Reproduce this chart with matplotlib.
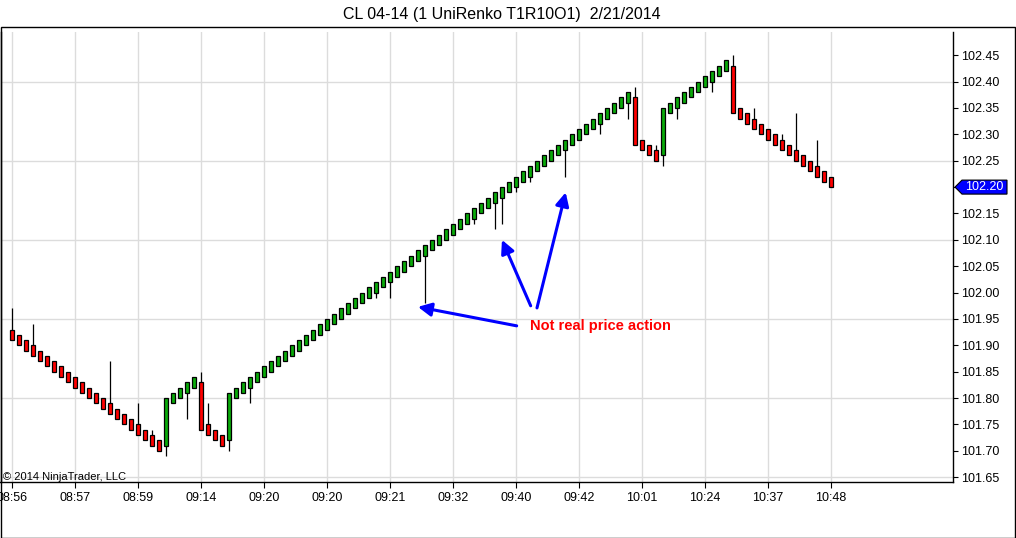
import numpy as np
import matplotlib
matplotlib.use("Agg")
import matplotlib.pyplot as plt
from matplotlib.patches import Rectangle, Polygon
from matplotlib.transforms import IdentityTransform

plt.rcParams["font.family"] = ["Liberation Sans", "DejaVu Sans"]

# --------------------------------------------------
# DATA (one entry per renko bar)
# --------------------------------------------------
opens = [
    101.93, 101.92, 101.91, 101.90, 101.89, 101.88, 101.87, 101.86, 101.85, 101.84,
    101.83, 101.82, 101.81, 101.80, 101.79, 101.78, 101.77, 101.76, 101.75, 101.74,
    101.73, 101.72,
    101.71, 101.79, 101.80, 101.81, 101.82,
    101.83, 101.75, 101.74, 101.73,
    101.72,
    101.80, 101.81, 101.82, 101.83, 101.84, 101.85, 101.86, 101.87, 101.88, 101.89,
    101.90, 101.91, 101.92, 101.93, 101.94, 101.95, 101.96, 101.97, 101.98, 101.99,
    102.00, 102.01, 102.02, 102.03, 102.04, 102.05, 102.06, 102.07, 102.08, 102.09,
    102.10, 102.11, 102.12, 102.13, 102.14, 102.15, 102.16, 102.17, 102.18, 102.19,
    102.20, 102.21, 102.22, 102.23, 102.24, 102.25, 102.26, 102.27, 102.28, 102.29,
    102.30, 102.31, 102.32, 102.33, 102.34, 102.35, 102.36,
    102.37, 102.29, 102.28, 102.27,
    102.26, 102.34, 102.35, 102.36, 102.37, 102.38, 102.39, 102.40, 102.41, 102.42,
    102.43, 102.35, 102.34, 102.33, 102.32, 102.31, 102.30, 102.29, 102.28, 102.27,
    102.26, 102.25, 102.24, 102.23, 102.22,
]
closes = [
    101.91, 101.90, 101.89, 101.88, 101.87, 101.86, 101.85, 101.84, 101.83, 101.82,
    101.81, 101.80, 101.79, 101.78, 101.77, 101.76, 101.75, 101.74, 101.73, 101.72,
    101.71, 101.70,
    101.80, 101.81, 101.82, 101.83, 101.84,
    101.74, 101.73, 101.72, 101.71,
    101.81,
    101.82, 101.83, 101.84, 101.85, 101.86, 101.87, 101.88, 101.89, 101.90, 101.91,
    101.92, 101.93, 101.94, 101.95, 101.96, 101.97, 101.98, 101.99, 102.00, 102.01,
    102.02, 102.03, 102.04, 102.05, 102.06, 102.07, 102.08, 102.09, 102.10, 102.11,
    102.12, 102.13, 102.14, 102.15, 102.16, 102.17, 102.18, 102.19, 102.20, 102.21,
    102.22, 102.23, 102.24, 102.25, 102.26, 102.27, 102.28, 102.29, 102.30, 102.31,
    102.32, 102.33, 102.34, 102.35, 102.36, 102.37, 102.38,
    102.28, 102.27, 102.26, 102.25,
    102.35, 102.36, 102.37, 102.38, 102.39, 102.40, 102.41, 102.42, 102.43, 102.44,
    102.34, 102.33, 102.32, 102.31, 102.30, 102.29, 102.28, 102.27, 102.26, 102.25,
    102.24, 102.23, 102.22, 102.21, 102.20,
]

# wicks sticking out of the body: bar index -> price
upper_wick_bars = [0, 3, 14, 18, 20, 27, 28, 89, 92, 103, 106, 110, 112, 115]
upper_wick_vals = [101.97, 101.94, 101.87, 101.79, 101.74, 101.85, 101.79,
                   102.39, 102.28, 102.45, 102.35, 102.30, 102.34, 102.29]
lower_wick_bars = [22, 25, 31, 34, 52, 54, 59, 66, 69, 70, 72, 74, 79, 84, 88, 93, 95, 100]
lower_wick_vals = [101.69, 101.76, 101.70, 101.79, 101.99, 101.99, 101.98, 102.13, 102.12,
                   102.13, 102.19, 102.21, 102.22, 102.30, 102.33, 102.24, 102.33, 102.38]

time_labels = ["08:56", "08:57", "08:59", "09:14", "09:20", "09:20", "09:21",
               "09:32", "09:40", "09:42", "10:01", "10:24", "10:37", "10:48"]
bars_per_label = 9

title = "CL 04-14 (1 UniRenko T1R10O1)  2/21/2014"
note = "Not real price action"

# --------------------------------------------------
# PREP
# --------------------------------------------------
o = np.array(opens)
c = np.array(closes)
x = np.arange(len(c))
highs = np.maximum(o, c)
lows = np.minimum(o, c)
highs[upper_wick_bars] = upper_wick_vals
lows[lower_wick_bars] = lower_wick_vals

UP = "#0aaa0a"
DOWN = "#ff0000"
colors = [UP if cc > oo else DOWN for oo, cc in zip(o, c)]
last = closes[-1]

# --------------------------------------------------
# FIGURE
# --------------------------------------------------
W, H = 1016, 538
fig = plt.figure(figsize=(W / 100, H / 100), dpi=100)
ax = fig.add_axes([0.5 / W, (H - 482) / H, (953 - 0.5) / W, (482 - 32) / H])

ax.set_xlim(-1.6, 134.4)
ax.set_ylim(101.641, 102.494)

# grid
ax.set_xticks(np.arange(0, len(c), bars_per_label))
ax.set_xticklabels(time_labels)
ax.grid(axis="x", color="#dcdcdc", lw=1.0)
for lvl in np.arange(101.65, 102.46, 0.15):
    ax.axhline(lvl, color="#dcdcdc", lw=1.0, zorder=0)
ax.set_axisbelow(True)

# candles
ax.vlines(x, lows, highs, color="black", lw=0.9, zorder=2)
ax.bar(x, np.abs(c - o), bottom=np.minimum(o, c), width=0.58,
       color=colors, edgecolor="black", linewidth=0.9, zorder=3)

# axes styling (the live price box takes the place of its own tick label)
ax.yaxis.tick_right()
yt = np.round(np.arange(101.65, 102.46, 0.05), 2)
ax.set_yticks(yt)
ax.set_yticklabels(["" if abs(v - last) < 1e-6 else f"{v:.2f}" for v in yt])
ax.tick_params(axis="y", direction="out", length=3.5, width=0.8, pad=2, labelsize=9)
ax.tick_params(axis="x", direction="out", length=4.5, width=0.8, pad=2.5, labelsize=9)
ax.spines["top"].set_visible(False)
for s in ["left", "bottom", "right"]:
    ax.spines[s].set_linewidth(1.0)

# annotations
arrow = dict(arrowstyle="-|>", color="#0000ff", lw=2.2, mutation_scale=20,
             shrinkA=0, shrinkB=0)
ax.annotate("", xy=(58.0, 101.973), xytext=(72.1, 101.937), arrowprops=arrow)
ax.annotate("", xy=(70.0, 102.100), xytext=(74.1, 101.975), arrowprops=arrow)
ax.annotate("", xy=(79.1, 102.190), xytext=(75.0, 101.971), arrowprops=arrow)
ax.text(74.0, 101.937, note, color="#ff0000", fontsize=10.5, fontweight="bold",
        ha="left", va="center")

# current price marker
fig.canvas.draw()
yp = ax.transData.transform((0, last))[1]
pts = [(955, yp), (962, yp + 7), (1007, yp + 7), (1007, yp - 7), (962, yp - 7)]
fig.add_artist(Polygon(pts, closed=True, facecolor="#0000ff", edgecolor="black",
                       lw=0.8, transform=IdentityTransform()))
fig.text(984.5 / W, yp / H, f"{last:.2f}", color="white", fontsize=9,
         ha="center", va="center")

# title, copyright, outer frame
fig.text(502 / W, 1 - 14 / H, title, ha="center", va="center", fontsize=11.5)
fig.text(3 / W, (H - 480) / H, "\u00a9 2014 NinjaTrader, LLC", fontsize=8,
         ha="left", va="baseline")
fig.add_artist(Rectangle((0.5 / W, 0.5 / H), 1014 / W, (H - 28) / H,
                         transform=fig.transFigure, fill=False, lw=1.0,
                         edgecolor="black"))

fig.savefig("out.png", dpi=100)
